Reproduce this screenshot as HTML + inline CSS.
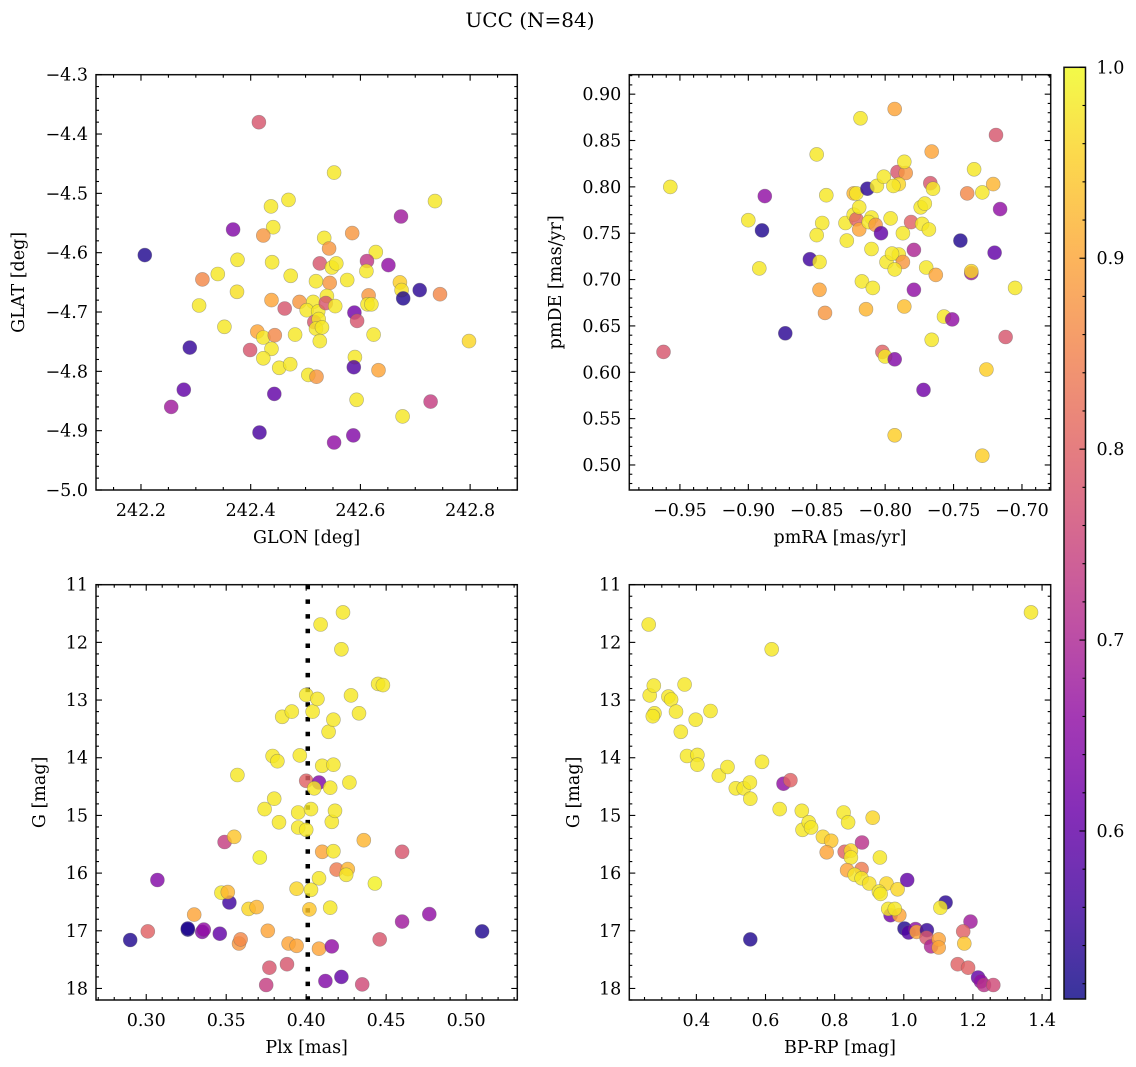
<!DOCTYPE html>
<html><head><meta charset="utf-8"><style>
body{margin:0;background:#fff;}
svg{display:block;font-family:"DejaVu Serif","Liberation Serif",serif;}
</style></head><body>
<svg id="fig" width="1136" height="1067" viewBox="0 0 1136 1067" xmlns="http://www.w3.org/2000/svg">
<text x="530" y="27" font-size="20" text-anchor="middle">UCC (N=84)</text>
</svg>
<script>
// Panel 1: GLON vs GLAT
const p1_glon=[242.207,242.415,242.368,242.437,242.469,242.441,242.423,242.552,242.736,242.674,242.585,242.534,242.543,242.628,242.612,242.651,242.611,242.526,242.548,242.556,242.576,242.519,242.544,242.672,242.675,242.678,242.708,242.745,242.615,242.613,242.620,242.589,242.594,242.624,242.798,242.340,242.312,242.376,242.439,242.473,242.375,242.438,242.306,242.462,242.489,242.514,242.502,242.523,242.539,242.537,242.554,242.516,242.524,242.519,242.530,242.526,242.352,242.412,242.423,242.444,242.481,242.399,242.438,242.423,242.452,242.472,242.505,242.520,242.590,242.588,242.633,242.593,242.677,242.728,242.289,242.278,242.255,242.443,242.416,242.552,242.587];
const p1_glat=[-4.604,-4.380,-4.561,-4.522,-4.511,-4.557,-4.571,-4.465,-4.513,-4.539,-4.567,-4.575,-4.593,-4.599,-4.614,-4.621,-4.631,-4.618,-4.625,-4.618,-4.646,-4.648,-4.651,-4.650,-4.663,-4.677,-4.663,-4.670,-4.672,-4.687,-4.687,-4.701,-4.715,-4.738,-4.749,-4.636,-4.645,-4.612,-4.616,-4.639,-4.666,-4.680,-4.689,-4.694,-4.683,-4.683,-4.697,-4.699,-4.673,-4.685,-4.690,-4.717,-4.712,-4.728,-4.726,-4.749,-4.725,-4.733,-4.743,-4.739,-4.738,-4.764,-4.762,-4.778,-4.794,-4.788,-4.806,-4.809,-4.776,-4.793,-4.798,-4.848,-4.876,-4.851,-4.760,-4.831,-4.860,-4.838,-4.903,-4.920,-4.908];
const p1_prob=[0.53,0.78,0.64,0.98,0.98,0.98,0.88,0.98,0.98,0.68,0.88,0.98,0.88,0.98,0.73,0.66,0.98,0.78,0.98,0.98,0.98,0.98,0.88,0.95,0.97,0.53,0.54,0.86,0.88,0.98,0.98,0.62,0.78,0.98,0.96,0.98,0.86,0.98,0.98,0.98,0.97,0.9,0.98,0.78,0.88,0.98,0.98,0.98,0.98,0.78,0.98,0.78,0.98,0.98,0.98,0.98,0.98,0.9,0.98,0.86,0.98,0.78,0.98,0.98,0.98,0.98,0.98,0.88,0.98,0.58,0.9,0.98,0.98,0.74,0.55,0.6,0.68,0.6,0.57,0.66,0.64];
// Panel 2: pmRA vs pmDE
const p2_pmra=[-0.957,-0.962,-0.888,-0.890,-0.900,-0.892,-0.873,-0.855,-0.848,-0.848,-0.844,-0.850,-0.843,-0.846,-0.850,-0.829,-0.828,-0.823,-0.821,-0.823,-0.821,-0.819,-0.819,-0.818,-0.813,-0.806,-0.801,-0.810,-0.812,-0.807,-0.803,-0.810,-0.817,-0.809,-0.814,-0.793,-0.791,-0.785,-0.786,-0.790,-0.794,-0.796,-0.787,-0.799,-0.790,-0.795,-0.787,-0.793,-0.781,-0.779,-0.779,-0.786,-0.802,-0.800,-0.793,-0.793,-0.774,-0.771,-0.773,-0.768,-0.770,-0.763,-0.766,-0.767,-0.765,-0.766,-0.772,-0.757,-0.751,-0.745,-0.740,-0.735,-0.729,-0.737,-0.737,-0.726,-0.729,-0.721,-0.719,-0.716,-0.720,-0.712,-0.705];
const p2_pmde=[0.800,0.622,0.790,0.753,0.764,0.712,0.642,0.722,0.719,0.689,0.664,0.835,0.791,0.761,0.748,0.761,0.742,0.793,0.793,0.770,0.765,0.754,0.778,0.874,0.798,0.801,0.811,0.767,0.762,0.759,0.750,0.733,0.698,0.691,0.668,0.884,0.816,0.815,0.827,0.803,0.801,0.766,0.750,0.719,0.727,0.728,0.719,0.711,0.762,0.732,0.689,0.671,0.622,0.617,0.614,0.532,0.778,0.782,0.760,0.754,0.713,0.705,0.838,0.804,0.798,0.635,0.581,0.660,0.657,0.742,0.793,0.819,0.794,0.707,0.709,0.603,0.510,0.803,0.856,0.776,0.729,0.638,0.691];
const p2_prob=[0.98,0.78,0.66,0.53,0.98,0.98,0.54,0.56,0.98,0.9,0.88,0.98,0.98,0.98,0.98,0.98,0.98,0.92,0.98,0.98,0.8,0.9,0.98,0.98,0.54,0.98,0.98,0.98,0.98,0.88,0.6,0.98,0.98,0.98,0.92,0.9,0.78,0.88,0.98,0.96,0.98,0.98,0.98,0.98,0.98,0.98,0.88,0.98,0.8,0.7,0.66,0.93,0.8,0.98,0.64,0.95,0.98,0.98,0.98,0.98,0.98,0.9,0.9,0.78,0.98,0.98,0.62,0.98,0.66,0.53,0.86,0.98,0.98,0.68,0.96,0.95,0.95,0.92,0.78,0.66,0.6,0.78,0.98];
// Panel 3: Plx vs G
const p3_plx=[0.290,0.301,0.307,0.326,0.326,0.335,0.336,0.330,0.346,0.349,0.352,0.347,0.351,0.355,0.357,0.358,0.359,0.364,0.369,0.371,0.374,0.376,0.375,0.377,0.379,0.382,0.380,0.383,0.385,0.391,0.388,0.389,0.394,0.394,0.396,0.395,0.395,0.400,0.400,0.400,0.403,0.404,0.403,0.402,0.407,0.408,0.405,0.409,0.408,0.410,0.408,0.410,0.415,0.416,0.415,0.414,0.417,0.417,0.418,0.417,0.416,0.412,0.422,0.422,0.423,0.419,0.426,0.425,0.428,0.427,0.433,0.436,0.435,0.443,0.445,0.448,0.446,0.460,0.460,0.477,0.510];
const p3_g=[17.16,17.01,16.12,16.98,16.96,17.02,16.98,16.72,17.05,15.46,16.51,16.34,16.33,15.37,14.30,17.22,17.15,16.62,16.59,15.73,14.89,17.00,17.94,17.64,13.97,14.06,14.71,15.12,13.29,13.20,17.58,17.22,17.26,16.27,13.96,14.95,15.21,12.91,14.40,15.25,14.89,13.20,16.29,16.63,12.98,14.43,14.53,11.69,16.09,15.63,17.31,14.14,16.60,15.11,14.52,13.55,13.34,14.12,14.92,15.62,17.27,17.87,17.80,12.12,11.48,15.94,15.93,16.03,12.92,14.43,13.23,15.43,17.93,16.18,12.72,12.74,17.15,15.63,16.84,16.71,17.01];
const p3_prob=[0.53,0.8,0.64,0.52,0.53,0.64,0.66,0.9,0.6,0.74,0.56,0.98,0.92,0.94,0.98,0.88,0.86,0.96,0.92,0.99,0.98,0.9,0.74,0.78,0.98,0.98,0.98,0.98,0.98,0.98,0.78,0.9,0.9,0.96,0.98,0.98,0.98,0.98,0.8,0.98,0.98,0.98,0.98,0.94,0.98,0.64,0.98,0.98,0.98,0.9,0.9,0.98,0.98,0.98,0.98,0.98,0.98,0.98,0.98,0.98,0.66,0.64,0.6,0.98,0.98,0.84,0.92,0.98,0.98,0.98,0.98,0.92,0.76,0.99,0.98,0.98,0.78,0.78,0.68,0.66,0.53];
// Panel 4: BP-RP vs G
const p4_bprp=[0.262,1.368,0.618,0.265,0.277,0.366,0.319,0.327,0.279,0.274,0.341,0.398,0.441,0.355,0.373,0.403,0.403,0.465,0.490,0.590,0.514,0.537,0.555,0.556,0.556,0.641,0.652,0.672,0.705,0.707,0.725,0.732,0.766,0.790,0.777,0.826,0.839,0.829,0.847,0.847,0.879,0.910,0.931,0.836,0.878,0.858,0.878,0.900,0.950,0.982,0.928,0.933,1.010,1.121,1.106,0.962,0.955,0.987,0.974,1.002,1.014,1.034,1.037,1.067,1.066,1.079,1.101,1.101,1.193,1.172,1.175,1.156,1.186,1.215,1.223,1.232,1.259];
const p4_g=[11.69,11.48,12.12,12.92,12.75,12.73,12.94,12.99,13.23,13.28,13.20,13.34,13.19,13.55,13.97,13.95,14.12,14.31,14.16,14.07,14.53,14.53,14.43,14.71,17.15,14.89,14.45,14.39,14.92,15.25,15.12,15.21,15.37,15.44,15.64,14.95,15.12,15.63,15.61,15.73,15.47,15.04,15.73,15.95,15.93,16.03,16.09,16.18,16.18,16.28,16.32,16.36,16.12,16.51,16.60,16.73,16.62,16.73,16.62,16.96,17.03,16.97,17.02,16.99,17.12,17.27,17.15,17.29,16.84,17.01,17.22,17.58,17.64,17.81,17.88,17.94,17.94];
const p4_prob=[0.98,0.98,0.98,0.98,0.98,0.98,0.98,0.98,0.98,0.98,0.98,0.98,0.98,0.98,0.98,0.98,0.98,0.98,0.98,0.98,0.98,0.98,0.98,0.98,0.53,0.98,0.66,0.8,0.98,0.98,0.98,0.98,0.96,0.94,0.9,0.98,0.98,0.8,0.96,0.98,0.72,0.96,0.98,0.9,0.84,0.98,0.98,0.97,0.96,0.96,0.98,0.98,0.6,0.54,0.98,0.62,0.98,0.9,0.98,0.53,0.58,0.66,0.9,0.55,0.78,0.7,0.9,0.9,0.68,0.8,0.94,0.8,0.8,0.6,0.66,0.72,0.76];
// Colorbar
const cbTicks=[0.6,0.7,0.8,0.9,1.0];
const cbMin=0.512, cbMax=1.0;

const NS="http://www.w3.org/2000/svg";
const svg=document.getElementById('fig');
const FS=17.5;
function mk(tag,attrs,parent){const e=document.createElementNS(NS,tag);for(const k in attrs)e.setAttribute(k,attrs[k]);(parent||svg).appendChild(e);return e;}
const stops=[[13,8,135],[65,4,157],[106,0,168],[143,13,164],[177,42,144],[204,71,120],[225,100,98],[242,132,75],[252,166,54],[252,206,37],[240,249,33]];
function plasma(t){t=Math.max(0,Math.min(1,t));const f=t*10;const i=Math.min(9,Math.floor(f));const r=f-i;const a=stops[i],b=stops[i+1];return `rgb(${Math.round(a[0]+(b[0]-a[0])*r)},${Math.round(a[1]+(b[1]-a[1])*r)},${Math.round(a[2]+(b[2]-a[2])*r)})`;}
function cmap(v){return plasma((v-cbMin)/(cbMax-cbMin));}
function fmt(v,d){const s=Math.abs(v).toFixed(d);return (v<-1e-9?'\u2212':'')+s;}

function panel(o){
  const g=mk('g',{});
  
  
  const X=v=>o.L+(v-o.x0)/(o.x1-o.x0)*(o.R-o.L);
  const Y=o.yInv? (v=>o.T+(v-o.y0)/(o.y1-o.y0)*(o.B-o.T)) : (v=>o.B-(v-o.y0)/(o.y1-o.y0)*(o.B-o.T));
  if(o.vline!==undefined){
    const l=mk('line',{x1:X(o.vline),x2:X(o.vline),y1:o.T,y2:o.B,stroke:'#000','stroke-width':4.5,'stroke-dasharray':'4.5 10.2'},g);
    
    
  }
  for(let i=0;i<o.xs.length;i++){
    const c=mk('circle',{cx:X(o.xs[i]).toFixed(1),cy:Y(o.ys[i]).toFixed(1),r:7,fill:cmap(o.ps[i]),'fill-opacity':0.82,stroke:'#666','stroke-opacity':0.5,'stroke-width':0.6},g);
    
    
  }
  const fr=mk('rect',{x:o.L,y:o.T,width:o.R-o.L,height:o.B-o.T,fill:'none',stroke:'#111','stroke-width':1.5},g);
  
  
  const eps=1e-9;
  for(let v=Math.ceil(o.x0/o.xmin-eps)*o.xmin; v<=o.x1+eps; v+=o.xmin){
    const x=X(v);const isMaj=Math.abs(v/o.xmaj-Math.round(v/o.xmaj))<1e-6;const len=isMaj?6:3;
    mk('line',{x1:x,x2:x,y1:o.B,y2:o.B-len,stroke:'#000','stroke-width':1.1},g);
    mk('line',{x1:x,x2:x,y1:o.T,y2:o.T+len,stroke:'#000','stroke-width':1.1},g);
    if(isMaj){const t=mk('text',{x:x,y:o.B+26,'font-size':FS,'text-anchor':'middle'},g);t.textContent=fmt(v,o.xd);
      
      }
  }
  for(let v=Math.ceil(Math.min(o.y0,o.y1)/o.ymin-eps)*o.ymin; v<=Math.max(o.y0,o.y1)+eps; v+=o.ymin){
    const y=Y(v);const isMaj=Math.abs(v/o.ymaj-Math.round(v/o.ymaj))<1e-6;const len=isMaj?6:3;
    mk('line',{x1:o.L,x2:o.L+len,y1:y,y2:y,stroke:'#000','stroke-width':1.1},g);
    mk('line',{x1:o.R,x2:o.R-len,y1:y,y2:y,stroke:'#000','stroke-width':1.1},g);
    if(isMaj){const t=mk('text',{x:o.L-8,y:y+6,'font-size':FS,'text-anchor':'end'},g);t.textContent=fmt(v,o.yd);
      
      }
  }
  const xl=mk('text',{x:(o.L+o.R)/2,y:o.B+53,'font-size':FS,'text-anchor':'middle'},g);xl.textContent=o.xlabel;
  
  
  const yl=mk('text',{x:0,y:0,'font-size':FS,'text-anchor':'middle',transform:`translate(${o.ylx},${(o.T+o.B)/2}) rotate(-90)`},g);yl.textContent=o.ylabel;
  
  
}

panel({name:'glon-glat-panel',L:96,R:517.3,T:74.7,B:490,x0:242.118,x1:242.886,y0:-5.0,y1:-4.3,xmaj:0.2,xmin:0.05,ymaj:0.1,ymin:0.02,xd:1,yd:1,xs:p1_glon,ys:p1_glat,ps:p1_prob,xlabel:'GLON [deg]',ylabel:'GLAT [deg]',ylx:24});
panel({name:'pm-panel',L:629.3,R:1050.7,T:74.7,B:490,x0:-0.987,x1:-0.679,y0:0.473,y1:0.921,xmaj:0.05,xmin:0.01,ymaj:0.05,ymin:0.01,xd:2,yd:2,xs:p2_pmra,ys:p2_pmde,ps:p2_prob,xlabel:'pmRA [mas/yr]',ylabel:'pmDE [mas/yr]',ylx:561});
panel({name:'plx-g-panel',L:96,R:517.3,T:584.7,B:1000,x0:0.2686,x1:0.532,y0:11.0,y1:18.2,yInv:true,xmaj:0.05,xmin:0.01,ymaj:1,ymin:0.2,xd:2,yd:0,xs:p3_plx,ys:p3_g,ps:p3_prob,xlabel:'Plx [mas]',ylabel:'G [mag]',ylx:45,vline:0.401});
panel({name:'cmd-panel',L:629.3,R:1050.7,T:584.7,B:1000,x0:0.206,x1:1.425,y0:11.0,y1:18.2,yInv:true,xmaj:0.2,xmin:0.05,ymaj:1,ymin:0.2,xd:1,yd:0,xs:p4_bprp,ys:p4_g,ps:p4_prob,xlabel:'BP-RP [mag]',ylabel:'G [mag]',ylx:579});

(function(){
  const L=1064,R=1085.5,T=67.3,B=999;
  const g=mk('g',{});
  
  
  const defs=mk('defs',{},g);
  const lg=mk('linearGradient',{id:'cbg',x1:0,y1:1,x2:0,y2:0},defs);
  for(let i=0;i<=20;i++){const t=i/20;mk('stop',{offset:t,'stop-color':plasma(t),'stop-opacity':0.82},lg);}
  mk('rect',{x:L,y:T,width:R-L,height:B-T,fill:'url(#cbg)',stroke:'#111','stroke-width':1.5},g);
  const Y=v=>B-(v-cbMin)/(cbMax-cbMin)*(B-T);
  for(let v=0.52;v<=1.0001;v+=0.02){const y=Y(v);const isMaj=Math.abs(v*10-Math.round(v*10))<1e-6;
    mk('line',{x1:R,x2:R-(isMaj?6:3),y1:y,y2:y,stroke:'#000','stroke-width':1.1},g);}
  cbTicks.forEach(v=>{const t=mk('text',{x:R+11,y:Y(v)+6,'font-size':FS},g);t.textContent=v.toFixed(1);
    
    });
})();
</script>
</body></html>
